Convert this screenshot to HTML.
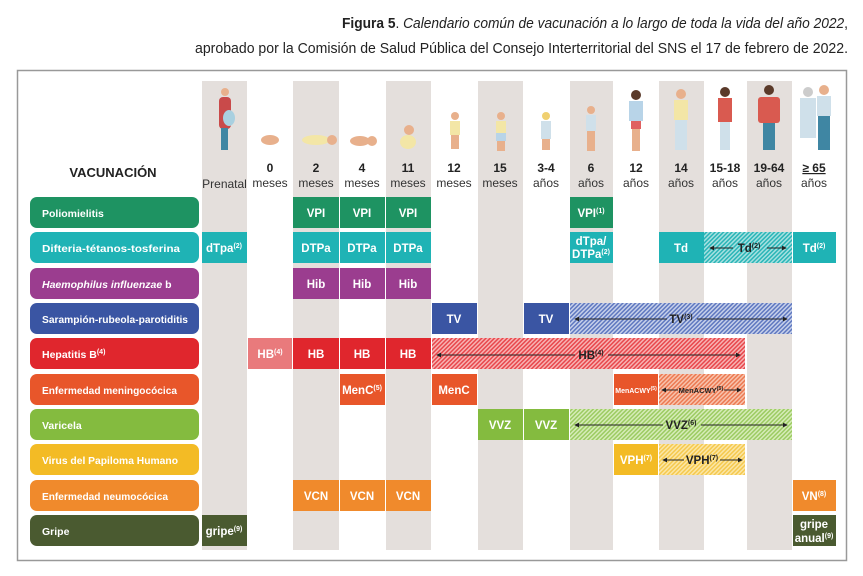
<!DOCTYPE html>
<html><head><meta charset="utf-8"><style>
html,body{margin:0;padding:0;background:#fff;}
svg{display:block;font-family:"Liberation Sans",sans-serif;}
.h{font-size:12px;fill:#333;text-anchor:middle;}
.hb{font-size:12px;fill:#222;font-weight:bold;text-anchor:middle;}
.c{font-size:11.5px;fill:#fff;font-weight:bold;text-anchor:middle;}
.d{font-size:11.5px;fill:#222;font-weight:bold;text-anchor:middle;}
.l{font-size:10.5px;fill:#fff;font-weight:bold;}
.s{font-size:7px;}
</style></head><body>
<svg width="863" height="576" viewBox="0 0 863 576" xmlns="http://www.w3.org/2000/svg">
<defs>
<pattern id="pT" width="3" height="3" patternUnits="userSpaceOnUse" patternTransform="rotate(45)"><rect width="3" height="3" fill="#a6e0e0"/><rect width="1.5" height="3" fill="#2ab5b7"/></pattern>
<pattern id="pB" width="3" height="3" patternUnits="userSpaceOnUse" patternTransform="rotate(45)"><rect width="3" height="3" fill="#c6d0ea"/><rect width="1.5" height="3" fill="#5f78c0"/></pattern>
<pattern id="pR" width="3" height="3" patternUnits="userSpaceOnUse" patternTransform="rotate(45)"><rect width="3" height="3" fill="#f7b3b3"/><rect width="1.5" height="3" fill="#e8474c"/></pattern>
<pattern id="pO" width="3" height="3" patternUnits="userSpaceOnUse" patternTransform="rotate(45)"><rect width="3" height="3" fill="#f8c3ad"/><rect width="1.5" height="3" fill="#ec7a52"/></pattern>
<pattern id="pG" width="3" height="3" patternUnits="userSpaceOnUse" patternTransform="rotate(45)"><rect width="3" height="3" fill="#d6ecb8"/><rect width="1.5" height="3" fill="#9ccb62"/></pattern>
<pattern id="pY" width="3" height="3" patternUnits="userSpaceOnUse" patternTransform="rotate(45)"><rect width="3" height="3" fill="#fbe6a6"/><rect width="1.5" height="3" fill="#f5c94e"/></pattern>
<marker id="ar" viewBox="0 0 6 6" refX="5" refY="3" markerWidth="5" markerHeight="5" orient="auto-start-reverse"><path d="M0,0L6,3L0,6z" fill="#222"/></marker>
</defs>

<!-- title -->
<text x="848" y="28" text-anchor="end" font-size="15" fill="#222" textLength="506" lengthAdjust="spacingAndGlyphs"><tspan font-weight="bold">Figura 5</tspan>. <tspan font-style="italic">Calendario común de vacunación a lo largo de toda la vida del año 2022</tspan>,</text>
<text x="848" y="53" text-anchor="end" font-size="15" fill="#222" textLength="653" lengthAdjust="spacingAndGlyphs">aprobado por la Comisión de Salud Pública del Consejo Interterritorial del SNS el 17 de febrero de 2022.</text>

<!-- frame -->
<rect x="17.5" y="70.5" width="829" height="490" fill="none" stroke="#999" stroke-width="1.5"/>

<!-- stripes -->
<g fill="#e4dfdc">
<rect x="202" y="81" width="45" height="469"/>
<rect x="293" y="81" width="46" height="469"/>
<rect x="386" y="81" width="45" height="469"/>
<rect x="478" y="81" width="45" height="469"/>
<rect x="570" y="81" width="43" height="469"/>
<rect x="659" y="81" width="45" height="469"/>
<rect x="747" y="81" width="45" height="469"/>
</g>

<!-- simple figures -->
<g>
<circle cx="225" cy="92" r="4" fill="#e8b08c"/><rect x="219" y="97" width="12" height="32" rx="4" fill="#c94a4a"/><ellipse cx="229" cy="118" rx="6" ry="8" fill="#a9d0e0"/><rect x="221" y="128" width="7" height="22" fill="#3f86a3"/>
<ellipse cx="270" cy="140" rx="9" ry="5" fill="#e8b08c"/>
<ellipse cx="316" cy="140" rx="14" ry="5" fill="#f3e6a6"/><circle cx="332" cy="140" r="5" fill="#e8b08c"/>
<ellipse cx="360" cy="141" rx="10" ry="5" fill="#e8b08c"/><circle cx="372" cy="141" r="5" fill="#e8b08c"/>
<circle cx="409" cy="130" r="5" fill="#e8b08c"/><ellipse cx="408" cy="142" rx="8" ry="7" fill="#f3e6a6"/>
<circle cx="455" cy="116" r="4" fill="#e8b08c"/><rect x="450" y="121" width="10" height="14" fill="#f3e6a6"/><rect x="451" y="135" width="8" height="14" fill="#e8b08c"/>
<circle cx="501" cy="116" r="4" fill="#e8b08c"/><rect x="496" y="121" width="10" height="12" fill="#f3e6a6"/><rect x="496" y="133" width="10" height="8" fill="#b8d4e8"/><rect x="497" y="141" width="8" height="10" fill="#e8b08c"/>
<circle cx="546" cy="116" r="4" fill="#f0d070"/><rect x="541" y="121" width="10" height="18" fill="#cfe0ea"/><rect x="542" y="139" width="8" height="11" fill="#e8b08c"/>
<circle cx="591" cy="110" r="4" fill="#e8b08c"/><rect x="586" y="115" width="10" height="16" fill="#cfe0ea"/><rect x="587" y="131" width="8" height="20" fill="#e8b08c"/>
<circle cx="636" cy="95" r="5" fill="#5a3a2a"/><rect x="629" y="101" width="14" height="20" fill="#b8d4e8"/><rect x="631" y="121" width="10" height="8" fill="#e06060"/><rect x="632" y="129" width="8" height="22" fill="#e8b08c"/>
<circle cx="681" cy="94" r="5" fill="#e8b08c"/><rect x="674" y="100" width="14" height="20" fill="#f3e6a6"/><rect x="675" y="120" width="12" height="30" fill="#cfe0ea"/>
<circle cx="725" cy="92" r="5" fill="#5a3a2a"/><rect x="718" y="98" width="14" height="24" fill="#d95a50"/><rect x="720" y="122" width="10" height="28" fill="#cfe0ea"/>
<circle cx="769" cy="90" r="5" fill="#5a3a2a"/><rect x="758" y="97" width="22" height="26" rx="3" fill="#d95a50"/><rect x="763" y="123" width="12" height="27" fill="#3f86a3"/>
<circle cx="808" cy="92" r="5" fill="#ccc"/><rect x="800" y="98" width="16" height="40" fill="#cfe0ea"/><circle cx="824" cy="90" r="5" fill="#e8b08c"/><rect x="817" y="96" width="14" height="20" fill="#cfe0ea"/><rect x="818" y="116" width="12" height="34" fill="#3f86a3"/>
</g>

<!-- headers -->
<text x="113" y="177" font-size="13" font-weight="bold" fill="#222" text-anchor="middle">VACUNACIÓN</text>
<text class="h" x="224.5" y="188">Prenatal</text>
<text class="hb" x="270" y="172">0</text><text class="h" x="270" y="187">meses</text>
<text class="hb" x="316" y="172">2</text><text class="h" x="316" y="187">meses</text>
<text class="hb" x="362" y="172">4</text><text class="h" x="362" y="187">meses</text>
<text class="hb" x="408" y="172">11</text><text class="h" x="408" y="187">meses</text>
<text class="hb" x="454" y="172">12</text><text class="h" x="454" y="187">meses</text>
<text class="hb" x="500" y="172">15</text><text class="h" x="500" y="187">meses</text>
<text class="hb" x="546" y="172">3-4</text><text class="h" x="546" y="187">años</text>
<text class="hb" x="591" y="172">6</text><text class="h" x="591" y="187">años</text>
<text class="hb" x="636" y="172">12</text><text class="h" x="636" y="187">años</text>
<text class="hb" x="681" y="172">14</text><text class="h" x="681" y="187">años</text>
<text class="hb" x="725" y="172">15-18</text><text class="h" x="725" y="187">años</text>
<text class="hb" x="769" y="172">19-64</text><text class="h" x="769" y="187">años</text>
<text class="hb" x="814" y="172" text-decoration="underline">≥ 65</text><text class="h" x="814" y="187">años</text>

<!-- left labels -->
<g>
<rect x="30" y="197" width="169" height="31" rx="7" fill="#1e9362"/><text class="l" x="42" y="217">Poliomielitis</text>
<rect x="30" y="232" width="169" height="31" rx="7" fill="#1fb3b5"/><text class="l" x="42" y="252" textLength="138" lengthAdjust="spacingAndGlyphs">Difteria-tétanos-tosferina</text>
<rect x="30" y="268" width="169" height="31" rx="7" fill="#9b3d8f"/><text class="l" x="42" y="288"><tspan font-style="italic">Haemophilus influenzae</tspan> b</text>
<rect x="30" y="303" width="169" height="31" rx="7" fill="#3a55a3"/><text class="l" x="42" y="323" textLength="146" lengthAdjust="spacingAndGlyphs">Sarampión-rubeola-parotiditis</text>
<rect x="30" y="338" width="169" height="31" rx="7" fill="#e0262d"/><text class="l" x="42" y="358">Hepatitis B<tspan class="s" dy="-4">(4)</tspan></text>
<rect x="30" y="374" width="169" height="31" rx="7" fill="#e8562a"/><text class="l" x="42" y="394" textLength="135" lengthAdjust="spacingAndGlyphs">Enfermedad meningocócica</text>
<rect x="30" y="409" width="169" height="31" rx="7" fill="#84bb3f"/><text class="l" x="42" y="429">Varicela</text>
<rect x="30" y="444" width="169" height="31" rx="7" fill="#f3bb25"/><text class="l" x="42" y="464" textLength="136" lengthAdjust="spacingAndGlyphs">Virus del Papiloma Humano</text>
<rect x="30" y="480" width="169" height="31" rx="7" fill="#f08a2c"/><text class="l" x="42" y="500" textLength="126" lengthAdjust="spacingAndGlyphs">Enfermedad neumocócica</text>
<rect x="30" y="515" width="169" height="31" rx="7" fill="#4a5a30"/><text class="l" x="42" y="535">Gripe</text>
</g>

<!-- row 0 polio -->
<g fill="#1e9362">
<rect x="293" y="197" width="46" height="31"/><rect x="340" y="197" width="45" height="31"/><rect x="386" y="197" width="45" height="31"/><rect x="570" y="197" width="43" height="31"/>
</g>
<text class="c" x="316" y="217">VPI</text><text class="c" x="362" y="217">VPI</text><text class="c" x="408" y="217">VPI</text><text class="c" x="591" y="217">VPI<tspan class="s" dy="-4">(1)</tspan></text>

<!-- row 1 difteria -->
<g fill="#1fb3b5">
<rect x="202" y="232" width="45" height="31"/><rect x="293" y="232" width="46" height="31"/><rect x="340" y="232" width="45" height="31"/><rect x="386" y="232" width="45" height="31"/><rect x="570" y="232" width="43" height="31"/><rect x="659" y="232" width="45" height="31"/><rect x="793" y="232" width="43" height="31"/>
</g>
<rect x="704" y="232" width="88" height="31" fill="url(#pT)"/>
<text class="c" x="224" y="252">dTpa<tspan class="s" dy="-4">(2)</tspan></text>
<text class="c" x="316" y="252">DTPa</text><text class="c" x="362" y="252">DTPa</text><text class="c" x="408" y="252">DTPa</text>
<text class="c" x="591" y="245">dTpa/</text><text class="c" x="591" y="258">DTPa<tspan class="s" dy="-4">(2)</tspan></text>
<text class="c" x="681" y="252">Td</text><text class="c" x="814" y="252">Td<tspan class="s" dy="-4">(2)</tspan></text>
<line x1="710" y1="248" x2="733" y2="248" stroke="#222" stroke-width="1" marker-start="url(#ar)"/><line x1="767" y1="248" x2="786" y2="248" stroke="#222" stroke-width="1" marker-end="url(#ar)"/>
<text class="d" x="749" y="252">Td<tspan class="s" dy="-4">(2)</tspan></text>

<!-- row 2 hib -->
<g fill="#9b3d8f"><rect x="293" y="268" width="46" height="31"/><rect x="340" y="268" width="45" height="31"/><rect x="386" y="268" width="45" height="31"/></g>
<text class="c" x="316" y="288">Hib</text><text class="c" x="362" y="288">Hib</text><text class="c" x="408" y="288">Hib</text>

<!-- row 3 TV -->
<g fill="#3a55a3"><rect x="432" y="303" width="45" height="31"/><rect x="524" y="303" width="45" height="31"/></g>
<rect x="570" y="303" width="222" height="31" fill="url(#pB)"/>
<text class="c" x="454" y="323">TV</text><text class="c" x="546" y="323">TV</text>
<line x1="575" y1="319" x2="667" y2="319" stroke="#222" marker-start="url(#ar)"/><line x1="697" y1="319" x2="787" y2="319" stroke="#222" marker-end="url(#ar)"/>
<text class="d" x="681" y="323">TV<tspan class="s" dy="-4">(3)</tspan></text>

<!-- row 4 HB -->
<rect x="248" y="338" width="44" height="31" fill="#e97a7c"/>
<g fill="#e0262d"><rect x="293" y="338" width="46" height="31"/><rect x="340" y="338" width="45" height="31"/><rect x="386" y="338" width="45" height="31"/></g>
<rect x="432" y="338" width="313" height="31" fill="url(#pR)"/>
<text class="c" x="270" y="358">HB<tspan class="s" dy="-4">(4)</tspan></text>
<text class="c" x="316" y="358">HB</text><text class="c" x="362" y="358">HB</text><text class="c" x="408" y="358">HB</text>
<line x1="437" y1="355" x2="575" y2="355" stroke="#222" marker-start="url(#ar)"/><line x1="608" y1="355" x2="740" y2="355" stroke="#222" marker-end="url(#ar)"/>
<text class="d" x="591" y="359">HB<tspan class="s" dy="-4">(4)</tspan></text>

<!-- row 5 meningo -->
<g fill="#e8562a"><rect x="340" y="374" width="45" height="31"/><rect x="432" y="374" width="45" height="31"/><rect x="614" y="374" width="44" height="31"/></g>
<rect x="659" y="374" width="86" height="31" fill="url(#pO)"/>
<text class="c" x="362" y="394">MenC<tspan class="s" dy="-4">(5)</tspan></text>
<text class="c" x="454" y="394">MenC</text>
<text class="c" x="636" y="393" style="font-size:7px">MenACWY<tspan dy="-3" style="font-size:5px">(5)</tspan></text>
<line x1="662" y1="390" x2="678" y2="390" stroke="#222" marker-start="url(#ar)"/><line x1="724" y1="390" x2="741" y2="390" stroke="#222" marker-end="url(#ar)"/>
<text class="d" x="701" y="393" style="font-size:7.5px">MenACWY<tspan dy="-3" style="font-size:5.5px">(5)</tspan></text>

<!-- row 6 varicela -->
<g fill="#84bb3f"><rect x="478" y="409" width="45" height="31"/><rect x="524" y="409" width="45" height="31"/></g>
<rect x="570" y="409" width="222" height="31" fill="url(#pG)"/>
<text class="c" x="500" y="429">VVZ</text><text class="c" x="546" y="429">VVZ</text>
<line x1="575" y1="425" x2="663" y2="425" stroke="#222" marker-start="url(#ar)"/><line x1="701" y1="425" x2="787" y2="425" stroke="#222" marker-end="url(#ar)"/>
<text class="d" x="681" y="429">VVZ<tspan class="s" dy="-4">(6)</tspan></text>

<!-- row 7 VPH -->
<rect x="614" y="444" width="44" height="31" fill="#f3bb25"/>
<rect x="659" y="444" width="86" height="31" fill="url(#pY)"/>
<text class="c" x="636" y="464">VPH<tspan class="s" dy="-4">(7)</tspan></text>
<line x1="663" y1="460" x2="684" y2="460" stroke="#222" marker-start="url(#ar)"/><line x1="720" y1="460" x2="742" y2="460" stroke="#222" marker-end="url(#ar)"/>
<text class="d" x="702" y="464">VPH<tspan class="s" dy="-4">(7)</tspan></text>

<!-- row 8 neumo -->
<g fill="#f08a2c"><rect x="293" y="480" width="46" height="31"/><rect x="340" y="480" width="45" height="31"/><rect x="386" y="480" width="45" height="31"/><rect x="793" y="480" width="43" height="31"/></g>
<text class="c" x="316" y="500">VCN</text><text class="c" x="362" y="500">VCN</text><text class="c" x="408" y="500">VCN</text><text class="c" x="814" y="500">VN<tspan class="s" dy="-4">(8)</tspan></text>

<!-- row 9 gripe -->
<g fill="#4a5a30"><rect x="202" y="515" width="45" height="31"/><rect x="793" y="515" width="43" height="31"/></g>
<text class="c" x="224" y="535">gripe<tspan class="s" dy="-4">(9)</tspan></text>
<text class="c" x="814" y="528">gripe</text><text class="c" x="814" y="542">anual<tspan class="s" dy="-4">(9)</tspan></text>
</svg>
</body></html>
